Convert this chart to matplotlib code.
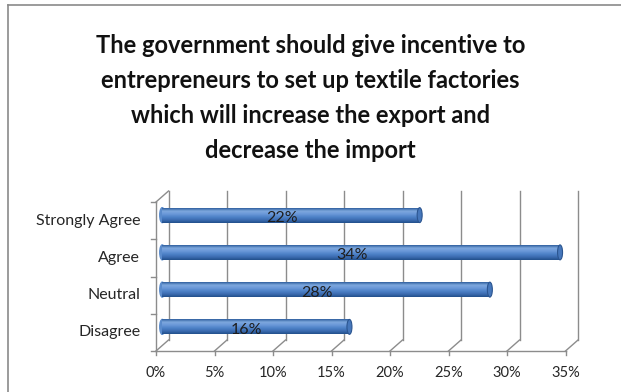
import numpy as np
import matplotlib
matplotlib.use("Agg")
import matplotlib.pyplot as plt
import matplotlib.transforms as mtransforms
from matplotlib.colors import LinearSegmentedColormap
from matplotlib.patches import Ellipse
from matplotlib.lines import Line2D

categories = ["Strongly Agree", "Agree", "Neutral", "Disagree"]
values = [22, 34, 28, 16]
xticks = [0, 5, 10, 15, 20, 25, 30, 35]
xticklabels = ["0%", "5%", "10%", "15%", "20%", "25%", "30%", "35%"]
title = ("The government should give incentive to\n"
         "entrepreneurs to set up textile factories\n"
         "which will increase the export and\n"
         "decrease the import")

plt.rcParams["font.family"] = ["Lato", "DejaVu Sans"]

W, H = 621, 392
fig = plt.figure(figsize=(W / 100, H / 100), dpi=100)
pix = mtransforms.IdentityTransform()

# back wall of the 3-D plot area
x0, x1 = 168.5, 578
ytop, ybot = 191, 340
ax = fig.add_axes([x0 / W, (H - ybot) / H, (x1 - x0) / W, (ybot - ytop) / H])
ax.set_xlim(0, 35)
ax.set_ylim(3.5, -0.5)
ax.axis("off")

grid_c = "#8c8c8c"
text_c = "#262626"
dx, dy = -12.5, -11
front = ax.transData + mtransforms.Affine2D().translate(dx, dy)
mid = ax.transData + mtransforms.Affine2D().translate(dx / 2, dy / 2)

# gridlines on the back wall
for t in xticks:
    ax.plot([t, t], [-0.5, 3.5], color=grid_c, lw=1, clip_on=False)


def diag(p):
    a = ax.transData.transform(p)
    b = front.transform(p)
    fig.add_artist(Line2D([a[0], b[0]], [a[1], b[1]], color=grid_c, lw=1,
                          transform=pix))


# floor edge, its ticks and the receding lines
ax.plot([0, 35], [3.5, 3.5], color=grid_c, lw=1, transform=front, clip_on=False)
for t, lab in zip(xticks, xticklabels):
    diag((t, 3.5))
    ax.plot([t, t], [3.5, 3.62], color=grid_c, lw=1, transform=front, clip_on=False)
    ax.text(t, 4.1, lab, transform=front, ha="center", va="center",
            fontsize=10.5, color=text_c)

# left wall edge with category ticks
ax.plot([0, 0], [-0.5, 3.5], color=grid_c, lw=1, transform=front, clip_on=False)
diag((0, -0.5))
for b in np.arange(-0.5, 4.0, 1.0):
    ax.plot([-0.45, 0], [b, b], color=grid_c, lw=1, transform=front, clip_on=False)
for i, c in enumerate(categories):
    ax.text(-1.35, i, c, transform=front, ha="right", va="center",
            fontsize=11.5, color=text_c)

# cylinders
shade = LinearSegmentedColormap.from_list(
    "cyl", ["#2f5f9e", "#7ea8de", "#6a98d8", "#4e82c8", "#3c6cb1", "#22508b"])
grad = np.linspace(0, 1, 64).reshape(-1, 1)
bh = 0.4
px_per_unit = (x1 - x0) / 35
cap_w = 5 / px_per_unit
for i, v in enumerate(values):
    ax.add_patch(Ellipse((0, i), cap_w, bh, transform=mid, color="#5a8bcc",
                         clip_on=False, zorder=2))
    ax.imshow(grad, cmap=shade, aspect="auto", interpolation="bilinear",
              extent=[0, v, i + bh / 2, i - bh / 2], transform=mid,
              zorder=3, clip_on=False)
    ax.add_patch(Ellipse((v, i), cap_w, bh, transform=mid, facecolor="#4677bb",
                         edgecolor="#2b5590", lw=0.8, clip_on=False, zorder=4))
    ax.text(v / 2 - 0.8, i + 0.08, f"{v}%", transform=mid, ha="center",
            va="center", fontsize=11.5, color="#1e1e1e", zorder=5)

ax.set_xlim(0, 35)
ax.set_ylim(3.5, -0.5)

fig.text(0.5, 1 - 98 / H, title, ha="center", va="center", fontsize=17,
         fontweight="bold", linespacing=1.62, color="#111111")

# chart area border (top and left edges fall inside the image)
fig.add_artist(Line2D([8, W + 5], [H - 5, H - 5], color="#8a8a8a", lw=1.2,
                      transform=pix))
fig.add_artist(Line2D([8, 8], [-5, H - 5], color="#8a8a8a", lw=1.2,
                      transform=pix))

fig.savefig("out.png", dpi=100)
